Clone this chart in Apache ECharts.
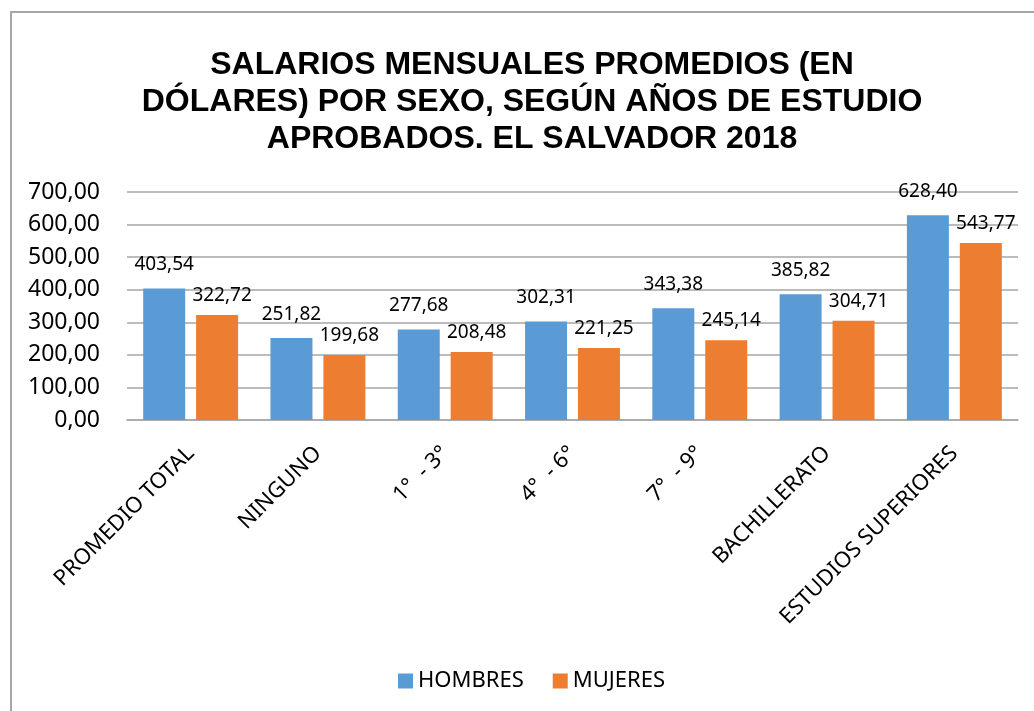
<!DOCTYPE html>
<html>
<head>
<meta charset="UTF-8">
<title>Salarios mensuales promedios</title>
<script src="https://cdn.jsdelivr.net/npm/echarts@6/dist/echarts.min.js"></script>
<style>
  body { margin: 0; background: #fff; }
  #frame { position: absolute; left: 10px; top: 11px; width: 1100px; height: 800px;
           border-top: 2px solid #a6a6a6; border-left: 2px solid #a6a6a6; }
  #main { position: absolute; left: 0; top: 0; width: 1034px; height: 711px; }
</style>
</head>
<body>
<div id="frame"></div>
<div id="main"></div>
<script type="text/javascript">
  var categorias = ['PROMEDIO TOTAL', 'NINGUNO', '1°  - 3°', '4°  - 6°', '7°  - 9°', 'BACHILLERATO', 'ESTUDIOS SUPERIORES'];
  var hombres = [403.54, 251.82, 277.68, 302.31, 343.38, 385.82, 628.40];
  var mujeres = [322.72, 199.68, 208.48, 221.25, 245.14, 304.71, 543.77];

  function coma(v) {
    return v.toFixed(2).replace('.', ',');
  }

  var myChart = echarts.init(document.getElementById('main'));
  var fuente = '"Noto Sans", "Open Sans", sans-serif';

  myChart.setOption({
    title: {
      text: 'SALARIOS MENSUALES PROMEDIOS (EN\nDÓLARES) POR SEXO, SEGÚN AÑOS DE ESTUDIO\nAPROBADOS. EL SALVADOR 2018',
      left: 527,
      top: 42,
      textAlign: 'center',
      textStyle: {
        fontFamily: '"Liberation Sans", Arial, sans-serif',
        fontWeight: 'bold',
        fontSize: 32,
        lineHeight: 37,
        color: '#000'
      }
    },
    legend: {
      data: ['HOMBRES', 'MUJERES'],
      left: 393,
      top: 665,
      itemWidth: 15,
      itemHeight: 15,
      itemGap: 29,
      icon: 'rect',
      textStyle: { fontFamily: fuente, fontSize: 22, color: '#000' }
    },
    grid: { left: 127, right: 16, top: 192, bottom: 291 },
    xAxis: {
      type: 'category',
      data: categorias,
      axisTick: { show: false },
      axisLine: { lineStyle: { color: '#a6a6a6', width: 1.5 } },
      axisLabel: {
        rotate: 45,
        interval: 0,
        margin: 30,
        fontFamily: fuente,
        fontSize: 22,
        color: '#000'
      }
    },
    yAxis: {
      type: 'value',
      min: 0,
      max: 700,
      interval: 100,
      axisLine: { show: false },
      axisTick: { show: false },
      splitLine: { lineStyle: { color: '#a6a6a6', width: 1.5 } },
      axisLabel: {
        margin: 27,
        fontFamily: fuente,
        fontSize: 23,
        color: '#000',
        formatter: function (v) { return coma(v); }
      }
    },
    series: [{
      name: 'HOMBRES',
      type: 'bar',
      data: hombres,
      barWidth: 42,
      barGap: '26%',
      itemStyle: { color: '#5B9BD5' },
      label: {
        show: true,
        position: 'top',
        distance: 14,
        fontFamily: fuente,
        fontSize: 19,
        color: '#000',
        formatter: function (p) { return coma(p.value); }
      }
    }, {
      name: 'MUJERES',
      type: 'bar',
      data: mujeres,
      barWidth: 42,
      itemStyle: { color: '#ED7D31' },
      label: {
        show: true,
        position: 'top',
        distance: 10,
        offset: [5, 0],
        fontFamily: fuente,
        fontSize: 19,
        color: '#000',
        formatter: function (p) { return coma(p.value); }
      }
    }]
  });
</script>
</body>
</html>
